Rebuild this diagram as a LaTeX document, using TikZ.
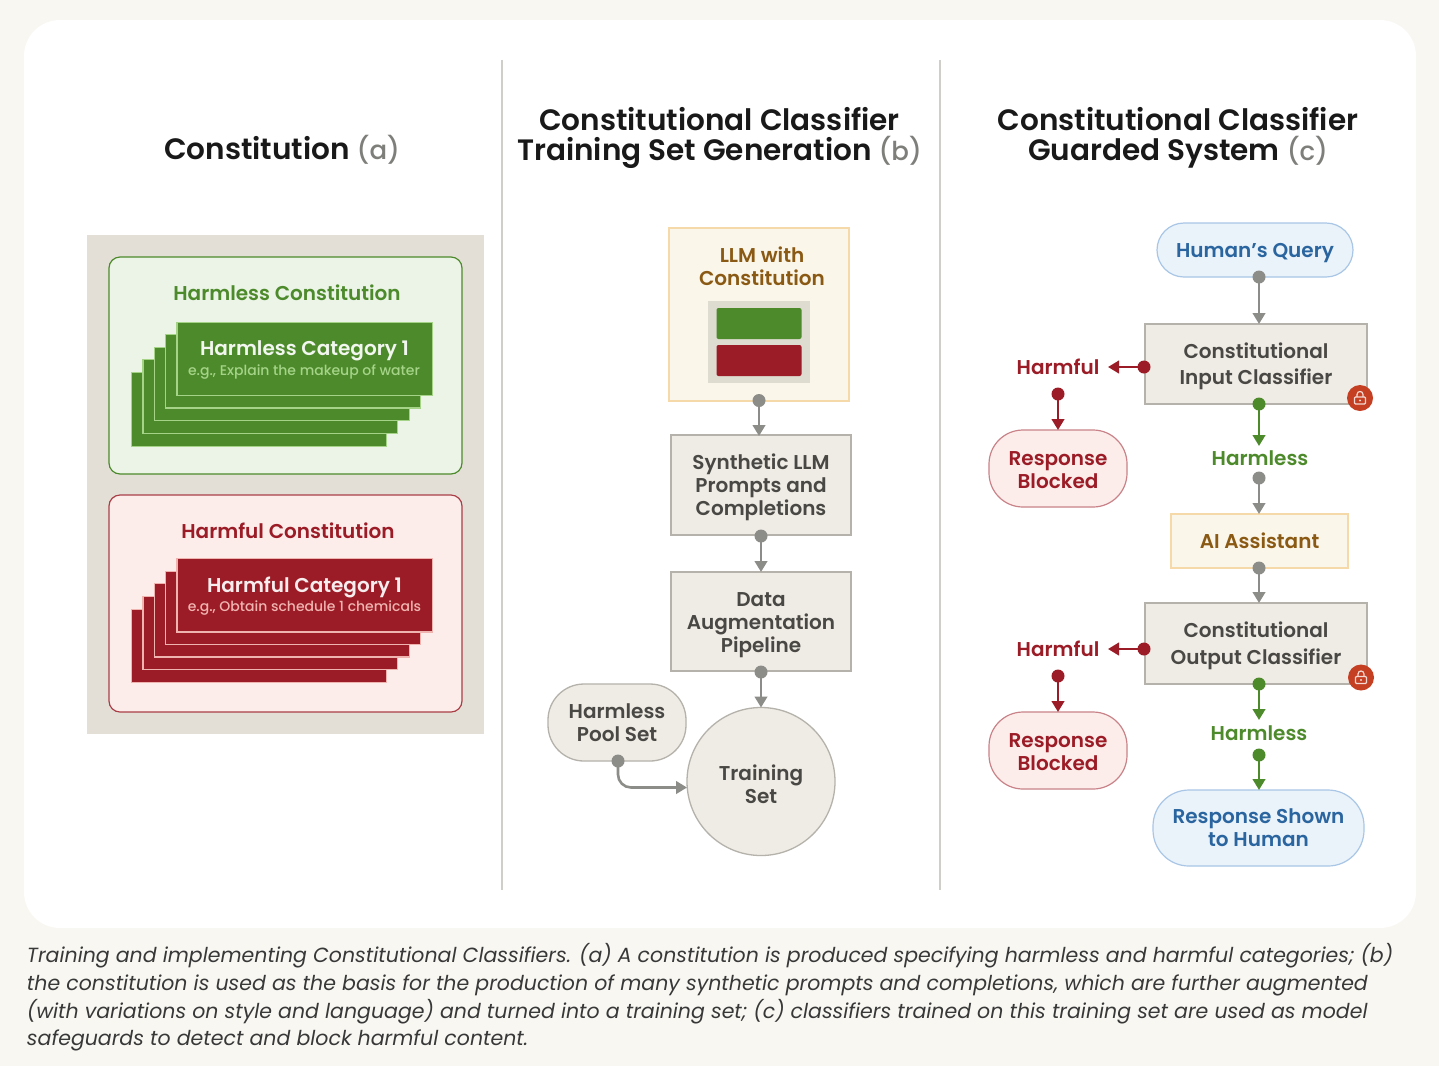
\documentclass[tikz,border=0pt]{standalone}
\usepackage{fontspec}
\setmainfont{Poppins}
\newfontfamily\hd{Poppins}[UprightFont=* Medium,BoldFont=* SemiBold]
\usetikzlibrary{arrows.meta,calc}
\definecolor{pagebg}{HTML}{F8F7F2}
\definecolor{rulec}{HTML}{CFCEC8}
\definecolor{sand}{HTML}{E3DFD7}
\definecolor{sandb}{HTML}{DEDBD0}
\definecolor{gfill}{HTML}{EBF4E7}
\definecolor{gdark}{HTML}{4D8A2B}
\definecolor{glight}{HTML}{A5D488}
\definecolor{rfill}{HTML}{FCEDEB}
\definecolor{rdark}{HTML}{9B1C26}
\definecolor{rlight}{HTML}{F0B4B0}
\definecolor{ystroke}{HTML}{F5D9A8}
\definecolor{yfill}{HTML}{FBF6EA}
\definecolor{ytext}{HTML}{8A5A14}
\definecolor{boxf}{HTML}{EFECE5}
\definecolor{boxs}{HTML}{B4B2AA}
\definecolor{boxt}{HTML}{4A4844}
\definecolor{bfill}{HTML}{EAF2FA}
\definecolor{bstroke}{HTML}{A9C6E6}
\definecolor{btext}{HTML}{2A659F}
\definecolor{greyc}{HTML}{8C8C88}
\definecolor{lockc}{HTML}{C53F23}
\tikzset{
  x=1pt,y=-1pt,
  base/.style={inner sep=0pt,outer sep=0pt,align=center,font=\hd\bfseries\fontsize{20}{23}\selectfont},
  ttl/.style={base,text=black!90,font=\hd\bfseries\fontsize{29.5}{30}\selectfont},
  greybox/.style={base,draw=boxs,fill=boxf,line width=1.3pt,text=boxt},
  pill/.style={greybox,rounded corners=36pt},
  redpill/.style={base,draw=rdark!55,fill=rfill,line width=1.2pt,text=rdark,rounded corners=34pt,minimum width=138pt,minimum height=77pt},
  bluepill/.style={base,draw=bstroke,fill=bfill,line width=1.2pt,text=btext,rounded corners=27pt},
  yellowbox/.style={base,draw=ystroke,fill=yfill,line width=1.3pt,text=ytext},
  panel/.style={base,rounded corners=11pt,line width=1.2pt},
  lab/.style={base},
  sublab/.style={base,font=\hd\fontsize{14}{16}\selectfont},
  cardg/.style={draw=glight,fill=gdark,line width=.8pt},
  cardr/.style={draw=rlight,fill=rdark,line width=.8pt},
  dotn/.style={circle,inner sep=0pt,outer sep=0pt,minimum size=13pt,fill=#1},
  conn/.style={draw=#1,line width=2.6pt,-{Triangle[length=11pt,width=12.5pt]}},
  lockn/.style={circle,inner sep=0pt,outer sep=0pt,minimum size=26pt,fill=lockc},
  lockline/.style={draw=white!80!lockc,line width=1.2pt}
}
\newcommand{\cards}[2]{% style, y of top card
  \fill[#1] (176.7-11.4*4,#2+12.6*4) rectangle ++(255.3,73.5);
  \foreach \i in {3,2,1,0}{
    \fill[#1] (176.7-11.4*\i,#2+12.6*\i) rectangle ++(255.3,73.5);
    \draw[#1,fill=none] (176.7-11.4*\i+.4,#2+12.6*\i) -- ++(0,73.1) -- ++(254.9,0);
  }
}
\newcommand{\drop}[1]{\rule{0pt}{#1pt}}
\newcommand{\tagc}[1]{{\hd\mdseries\fontsize{26}{30}\selectfont\textcolor{greyc!90!black}{#1}}}
\begin{document}
\begin{tikzpicture}
\useasboundingbox (0,0) rectangle (1439,1066);
\fill[pagebg] (0,0) rectangle (1439,1066);
\fill[white,rounded corners=36pt] (24,20) rectangle (1416,928);
\draw[rulec,line width=1.3pt] (502,60) -- (502,890);
\draw[rulec,line width=1.3pt] (940,60) -- (940,890);
% titles
\node[ttl] (ta) at (282,150) {Constitution \tagc{(a)}};
\node[ttl] (tb) at (719.5,138) {Constitutional Classifier\\Training Set Generation \tagc{(b)}};
\node[ttl] (tc) at (1178,138) {Constitutional Classifier\\Guarded System \tagc{(c)}};
% panel a
\fill[sand] (87,235) rectangle (484,734);
\node[panel,draw=gdark,fill=gfill,minimum width=353pt,minimum height=217pt] (gp) at (285.5,365.5) {};
\node[panel,draw=rdark!85,fill=rfill,minimum width=353pt,minimum height=217pt] (rp) at (285.5,603.5) {};
\node[lab,text=gdark] (gt) at (287,292.5) {Harmless Constitution};
\node[lab,text=rdark] (rt) at (288,530.5) {Harmful Constitution};
\cards{cardg}{322}
\cards{cardr}{558.5}
\node[lab,text=white!92!gdark] (gc) at (304.5,351) {Harmless Category 1};
\node[sublab,text=glight] (gs) at (304,371.5) {e.g., Explain the makeup of water};
\node[lab,text=white!92!rdark] (rc) at (304.5,587.5) {Harmful Category 1};
\node[sublab,text=rlight] (rs) at (304.5,608) {e.g., Obtain schedule 1 chemicals};
% panel b
\node[yellowbox,minimum width=180pt,minimum height=173pt] (llm) at (759,314.5) {};
\node[lab,text=ytext] (llmt) at (762,266) {LLM with\\Constitution};
\fill[sandb] (707.7,301) rectangle (810,383);
\fill[gdark,rounded corners=2pt] (716.5,308) rectangle (801.5,339);
\fill[rdark,rounded corners=2pt] (716.5,345) rectangle (801.5,376);
\node[greybox,minimum width=180pt,minimum height=100pt] (syn) at (761,485) {\drop{20}Synthetic LLM\\Prompts and\\Completions};
\node[greybox,minimum width=180pt,minimum height=99pt] (dap) at (761,621.5) {\drop{22}Data\\Augmentation\\Pipeline};
\node[pill,minimum width=138pt,minimum height=77pt] (pool) at (617,722.5) {Harmless\\Pool Set};
\node[greybox,circle,minimum size=148pt] (train) at (761,781.5) {\drop{21}Training\\Set};
\node[dotn=greyc] (d1) at (759,400.5) {};
\node[dotn=greyc] (d2) at (761,536) {};
\node[dotn=greyc] (d3) at (761,672) {};
\node[dotn=greyc] (d4) at (618,761) {};
\draw[conn=greyc] (d1.center) -- (759,436);
\draw[conn=greyc] (d2.center) -- (d2.center |- dap.north);
\draw[conn=greyc] (d3.center) -- (train.north);
\draw[conn=greyc,rounded corners=13pt] (d4.center) |- (train.west |- 0,787.5);
% panel c
\node[bluepill,minimum width=196pt,minimum height=54pt] (hq) at (1255,250) {\drop{21}Human’s Query};
\node[greybox,minimum width=222pt,minimum height=80pt,font=\hd\bfseries\fontsize{20}{26}\selectfont] (ic) at (1256,364) {\drop{21}Constitutional\\Input Classifier};
\node[lab,text=rdark] (h1) at (1058,366.5) {Harmful};
\node[redpill] (b1) at (1058,468.5) {\drop{17}Response\\Blocked};
\node[lab,text=gdark] (ok1) at (1260,458) {Harmless};
\node[yellowbox,minimum width=177pt,minimum height=54pt] (ai) at (1259.5,541) {AI Assistant};
\node[greybox,minimum width=222pt,minimum height=81pt,font=\hd\bfseries\fontsize{20}{26.5}\selectfont] (oc) at (1256,643.5) {\drop{20}Constitutional\\Output Classifier};
\node[lab,text=rdark] (h2) at (1058,648.5) {Harmful};
\node[redpill] (b2) at (1058,750.5) {\drop{17}Response\\Blocked};
\node[lab,text=gdark] (ok2) at (1259,733) {Harmless};
\node[bluepill,rounded corners=36pt,minimum width=211pt,minimum height=76pt] (rs2) at (1258.5,828) {Response Shown\\to Human};
\node[dotn=greyc] (c1) at (1259,277) {};
\node[dotn=rdark] (c2) at (1144,367) {};
\node[dotn=rdark] (c3) at (1058,394) {};
\node[dotn=gdark] (c4) at (1259,404) {};
\node[dotn=greyc] (c5) at (1259,478) {};
\node[dotn=greyc] (c6) at (1259,568) {};
\node[dotn=rdark] (c7) at (1144,649) {};
\node[dotn=rdark] (c8) at (1058,676) {};
\node[dotn=gdark] (c9) at (1259,684) {};
\node[dotn=gdark] (c10) at (1259,755) {};
\draw[conn=greyc] (c1.center) -- (c1.center |- ic.north);
\draw[conn=rdark] (c2.center) -- (1108,367);
\draw[conn=rdark] (c3.center) -- (b1.north);
\draw[conn=gdark] (c4.center) -- (1259,446);
\draw[conn=greyc] (c5.center) -- (c5.center |- ai.north);
\draw[conn=greyc] (c6.center) -- (c6.center |- oc.north);
\draw[conn=rdark] (c7.center) -- (1108,649);
\draw[conn=rdark] (c8.center) -- (b2.north);
\draw[conn=gdark] (c9.center) -- (1259,720);
\draw[conn=gdark] (c10.center) -- (c10.center |- rs2.north);
\node[lockn] (l1) at (1360,398) {};
\node[lockn] (l2) at (1361,677.5) {};
\foreach \n in {l1,l2}{
  \draw[lockline,rounded corners=1pt] ($(\n)+(-5.5,-1)$) rectangle ($(\n)+(5.5,6)$);
  \draw[lockline] ($(\n)+(-3,-1)$) -- ($(\n)+(-3,-3.5)$) .. controls ($(\n)+(-3,-7.5)$) and ($(\n)+(3,-7.5)$) .. ($(\n)+(3,-3.5)$) -- ($(\n)+(3,-1)$);
  \fill[white!80!lockc] ($(\n)+(0,2.5)$) circle (1.1pt);
}
% caption
\node[inner sep=0pt,outer sep=0pt,anchor=west,align=left,text=black!78,font=\itshape\fontsize{20.5}{27.6}\selectfont] (cap) at (27,997.5) {Training and implementing Constitutional Classifiers. (a) A constitution is produced specifying harmless and harmful categories; (b)\\the constitution is used as the basis for the production of many synthetic prompts and completions, which are further augmented\\(with variations on style and language) and turned into a training set; (c) classifiers trained on this training set are used as model\\safeguards to detect and block harmful content.};
\end{tikzpicture}
\end{document}
